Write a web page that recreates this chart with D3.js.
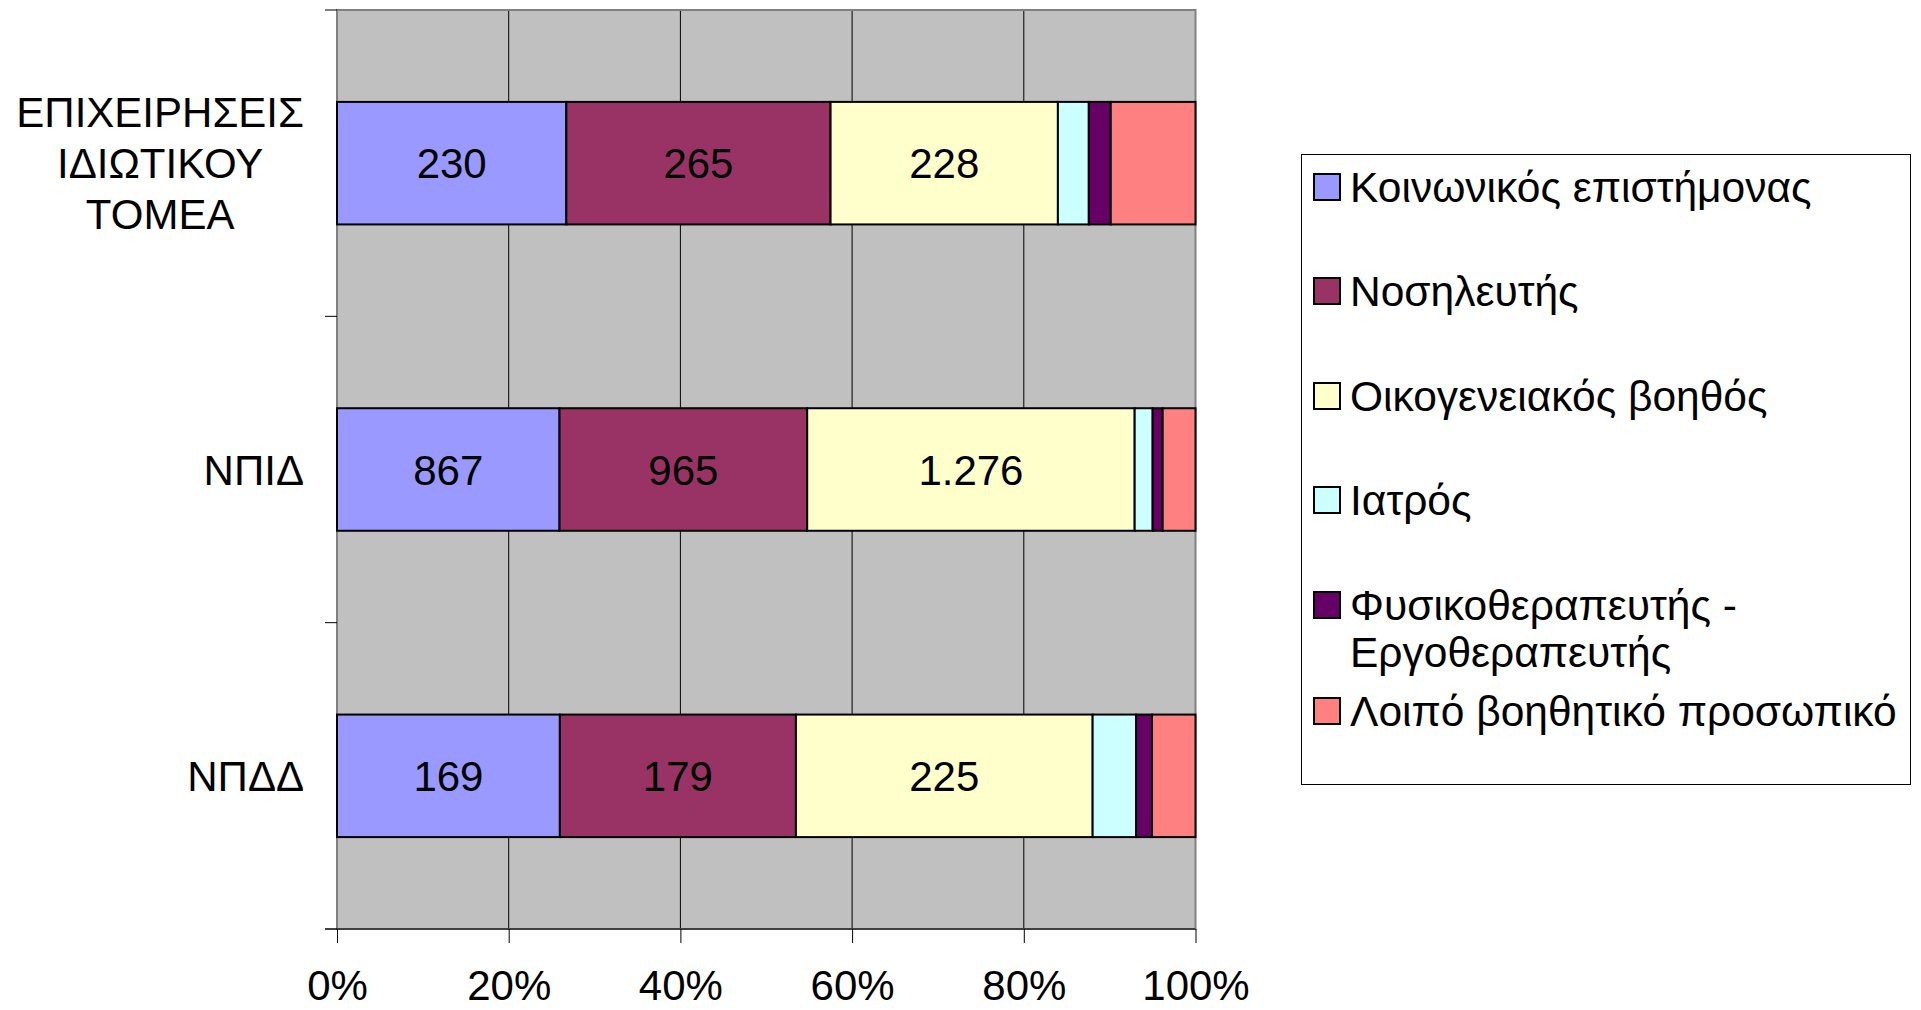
<!DOCTYPE html>
<html>
<head>
<meta charset="utf-8">
<script src="https://cdn.jsdelivr.net/npm/d3@7"></script>
<style>
  body { margin: 0; background: #fff; }
  svg text { font-family: "Liberation Sans", Arial, Helvetica, sans-serif; fill: #000; }
</style>
</head>
<body>
<div id="chart"></div>
<script>
(function () {
    "use strict";

    // categories top to bottom
    var categories = ["ΕΠΙΧΕΙΡΗΣΕΙΣ ΙΔΙΩΤΙΚΟΥ ΤΟΜΕΑ", "ΝΠΙΔ", "ΝΠΔΔ"];
    var categoryLines = [["ΕΠΙΧΕΙΡΗΣΕΙΣ", "ΙΔΙΩΤΙΚΟΥ", "ΤΟΜΕΑ"], ["ΝΠΙΔ"], ["ΝΠΔΔ"]];

    var seriesNames = ["Κοινωνικός επιστήμονας", "Νοσηλευτής", "Οικογενειακός βοηθός",
        "Ιατρός", "Φυσικοθεραπευτής - Εργοθεραπευτής", "Λοιπό βοηθητικό προσωπικό"];
    var legendLines = [["Κοινωνικός επιστήμονας"], ["Νοσηλευτής"], ["Οικογενειακός βοηθός"],
        ["Ιατρός"], ["Φυσικοθεραπευτής -", "Εργοθεραπευτής"], ["Λοιπό βοηθητικό προσωπικό"]];
    var colors = ["#9999FF", "#993366", "#FFFFCC", "#CCFFFF", "#660066", "#FF8080"];

    // values per series, in category order
    var socialScientist = [230, 867, 169];
    var nurse           = [265, 965, 179];
    var familyHelper    = [228, 1276, 225];
    var doctor          = [31, 70, 33];
    var physio          = [22, 39, 12];
    var otherStaff      = [85, 128, 33];
    var series = [socialScientist, nurse, familyHelper, doctor, physio, otherStaff];
    var labelled = [true, true, true, false, false, false];

    var xTicks = [0, 0.2, 0.4, 0.6, 0.8, 1];

    var W = 1921, H = 1010;
    var left = 337, right = 1195.5, top = 10, bottom = 929;
    var fs = 42;

    var svg = d3.select("#chart").append("svg")
        .attr("width", W).attr("height", H);

    var x = d3.scaleLinear().domain([0, 1]).range([left, right]);
    var y = d3.scaleBand().domain(categories).range([top, bottom])
        .paddingInner(0.6).paddingOuter(0.3);
    var yEdge = d3.scaleLinear().domain([0, categories.length]).range([top, bottom]);

    // plot background
    svg.append("rect")
        .attr("x", left).attr("y", top)
        .attr("width", right - left).attr("height", bottom - top)
        .attr("fill", "#C0C0C0");

    // vertical gridlines
    svg.append("g").selectAll("line")
        .data(xTicks.slice(1, -1))
        .join("line")
        .attr("x1", function (d) { return x(d); }).attr("x2", function (d) { return x(d); })
        .attr("y1", top).attr("y2", bottom)
        .attr("stroke", "#000").attr("stroke-width", 1);

    // plot border
    svg.append("rect")
        .attr("x", left).attr("y", top)
        .attr("width", right - left).attr("height", bottom - top)
        .attr("fill", "none").attr("stroke", "#808080").attr("stroke-width", 2);

    // stacked percentage data
    var rows = categories.map(function (c, i) {
        var total = d3.sum(series, function (s) { return s[i]; });
        var acc = 0;
        return series.map(function (s, j) {
            var seg = { cat: c, j: j, v: s[i], x0: acc / total, x1: (acc + s[i]) / total };
            acc += s[i];
            return seg;
        });
    });

    var bars = svg.append("g");
    rows.forEach(function (row) {
        bars.selectAll(null)
            .data(row)
            .join("rect")
            .attr("x", function (d) { return x(d.x0); })
            .attr("y", function (d) { return y(d.cat); })
            .attr("width", function (d) { return x(d.x1) - x(d.x0); })
            .attr("height", y.bandwidth())
            .attr("fill", function (d) { return colors[d.j]; })
            .attr("stroke", "#000").attr("stroke-width", 2);

        bars.selectAll(null)
            .data(row.filter(function (d) { return labelled[d.j]; }))
            .join("text")
            .attr("x", function (d) { return x((d.x0 + d.x1) / 2); })
            .attr("y", function (d) { return y(d.cat) + y.bandwidth() / 2; })
            .attr("dy", "0.36em")
            .attr("text-anchor", "middle")
            .attr("font-size", fs)
            .text(function (d) { return d3.format(",")(d.v).replace(/,/g, "."); });
    });

    // y axis ticks at category edges
    svg.append("g").selectAll("line")
        .data(d3.range(categories.length + 1))
        .join("line")
        .attr("x1", left - 12).attr("x2", left)
        .attr("y1", function (d) { return yEdge(d); }).attr("y2", function (d) { return yEdge(d); })
        .attr("stroke", "#000").attr("stroke-width", 1);

    // x axis
    var xAxis = d3.axisBottom(x).tickValues(xTicks)
        .tickFormat(d3.format(".0%")).tickSize(14).tickPadding(27);
    var gx = svg.append("g").attr("transform", "translate(0," + bottom + ")").call(xAxis);
    gx.select(".domain").remove();
    gx.selectAll("line").attr("stroke", "#000");
    gx.selectAll("text").attr("font-size", fs).attr("font-family", null);
    svg.append("line")
        .attr("x1", left - 12).attr("x2", right)
        .attr("y1", bottom).attr("y2", bottom)
        .attr("stroke", "#000").attr("stroke-width", 1);

    // category labels
    var labelRight = 304, lineH = 51;
    categories.forEach(function (c, i) {
        var lines = categoryLines[i];
        var cy = y(c) + y.bandwidth() / 2;
        var t = svg.append("text").attr("font-size", fs)
            .attr("text-anchor", lines.length > 1 ? "middle" : "end");
        lines.forEach(function (l, k) {
            t.append("tspan").text(l)
                .attr("y", cy + (k - (lines.length - 1) / 2) * lineH)
                .attr("dy", "0.36em");
        });
        if (lines.length > 1) {
            var maxW = 0;
            t.selectAll("tspan").each(function () {
                maxW = Math.max(maxW, this.getComputedTextLength());
            });
            t.selectAll("tspan").attr("x", labelRight - maxW / 2);
        } else {
            t.selectAll("tspan").attr("x", labelRight);
        }
    });

    // legend
    var lg = svg.append("g");
    lg.append("rect")
        .attr("x", 1301.5).attr("y", 154.5).attr("width", 609).attr("height", 630)
        .attr("fill", "#fff").attr("stroke", "#000").attr("stroke-width", 1);
    var itemY = [187, 291, 396, 500, 605, 711];
    seriesNames.forEach(function (n, j) {
        lg.append("rect")
            .attr("x", 1314).attr("y", itemY[j] - 13)
            .attr("width", 26).attr("height", 26)
            .attr("fill", colors[j]).attr("stroke", "#000").attr("stroke-width", 2);
        var t = lg.append("text").attr("font-size", 42.5);
        legendLines[j].forEach(function (l, k) {
            t.append("tspan").text(l).attr("x", 1350)
                .attr("y", itemY[j] + k * 47).attr("dy", "0.36em");
        });
    });
}());
</script>
</body>
</html>
